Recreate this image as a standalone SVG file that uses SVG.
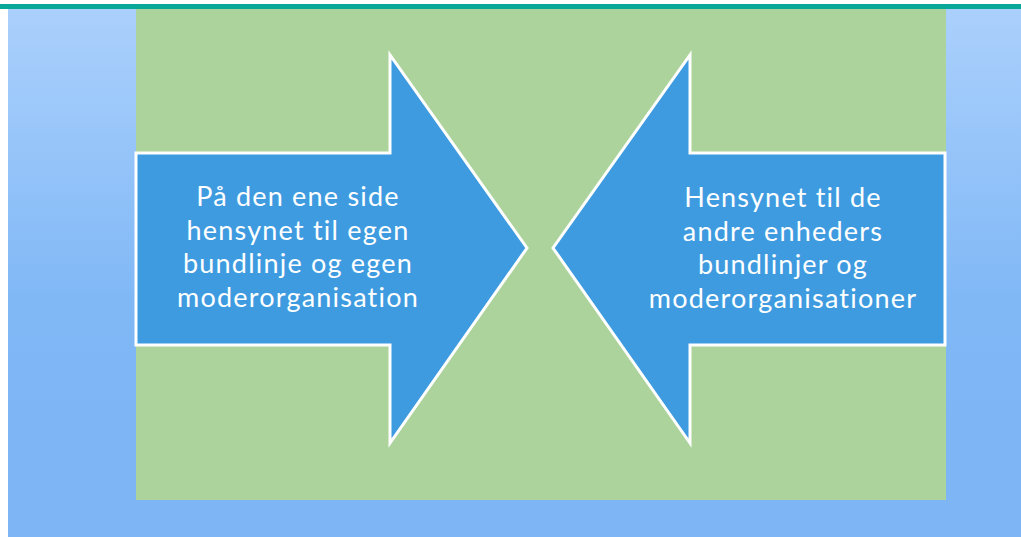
<svg xmlns="http://www.w3.org/2000/svg" width="1021" height="537" viewBox="0 0 1021 537">
  <defs>
    <linearGradient id="bg" x1="0" y1="0" x2="0" y2="1">
      <stop offset="0" stop-color="#abd0fc"/>
      <stop offset="0.55" stop-color="#80b8f6"/>
      <stop offset="1" stop-color="#7db5f5"/>
    </linearGradient>
  </defs>
  <style>
    .arrow { fill: #3e9be0; stroke: #ffffff; stroke-width: 3; stroke-linejoin: miter; }
    .lbl { font-family: Lato, "Liberation Sans", sans-serif; font-size: 27px; letter-spacing: 1.2px; fill: #ffffff; text-anchor: middle; }
  </style>
  <rect x="0" y="0" width="1021" height="537" fill="#ffffff"/>
  <rect x="8" y="9" width="1013" height="528" fill="url(#bg)"/>
  <rect x="0" y="4" width="1021" height="5" fill="#0aa898"/>
  <rect x="136" y="9" width="810" height="491" fill="#acd39b"/>
  <g id="connectors"></g>
  <g id="left-arrow">
    <polygon class="arrow" points="136,153 390,153 390,55 527,248 390,443 390,345 136,345"/>
    <text class="lbl" x="298" y="206">På den ene side</text>
    <text class="lbl" x="298" y="240">hensynet til egen</text>
    <text class="lbl" x="298" y="273">bundlinje og egen</text>
    <text class="lbl" x="298" y="307">moderorganisation</text>
  </g>
  <g id="right-arrow">
    <polygon class="arrow" points="945,153 690,153 690,55 553,248 690,443 690,345 945,345"/>
    <text class="lbl" x="783" y="207">Hensynet til de</text>
    <text class="lbl" x="783" y="241">andre enheders</text>
    <text class="lbl" x="783" y="274">bundlinjer og</text>
    <text class="lbl" x="783" y="308">moderorganisationer</text>
  </g>
</svg>
